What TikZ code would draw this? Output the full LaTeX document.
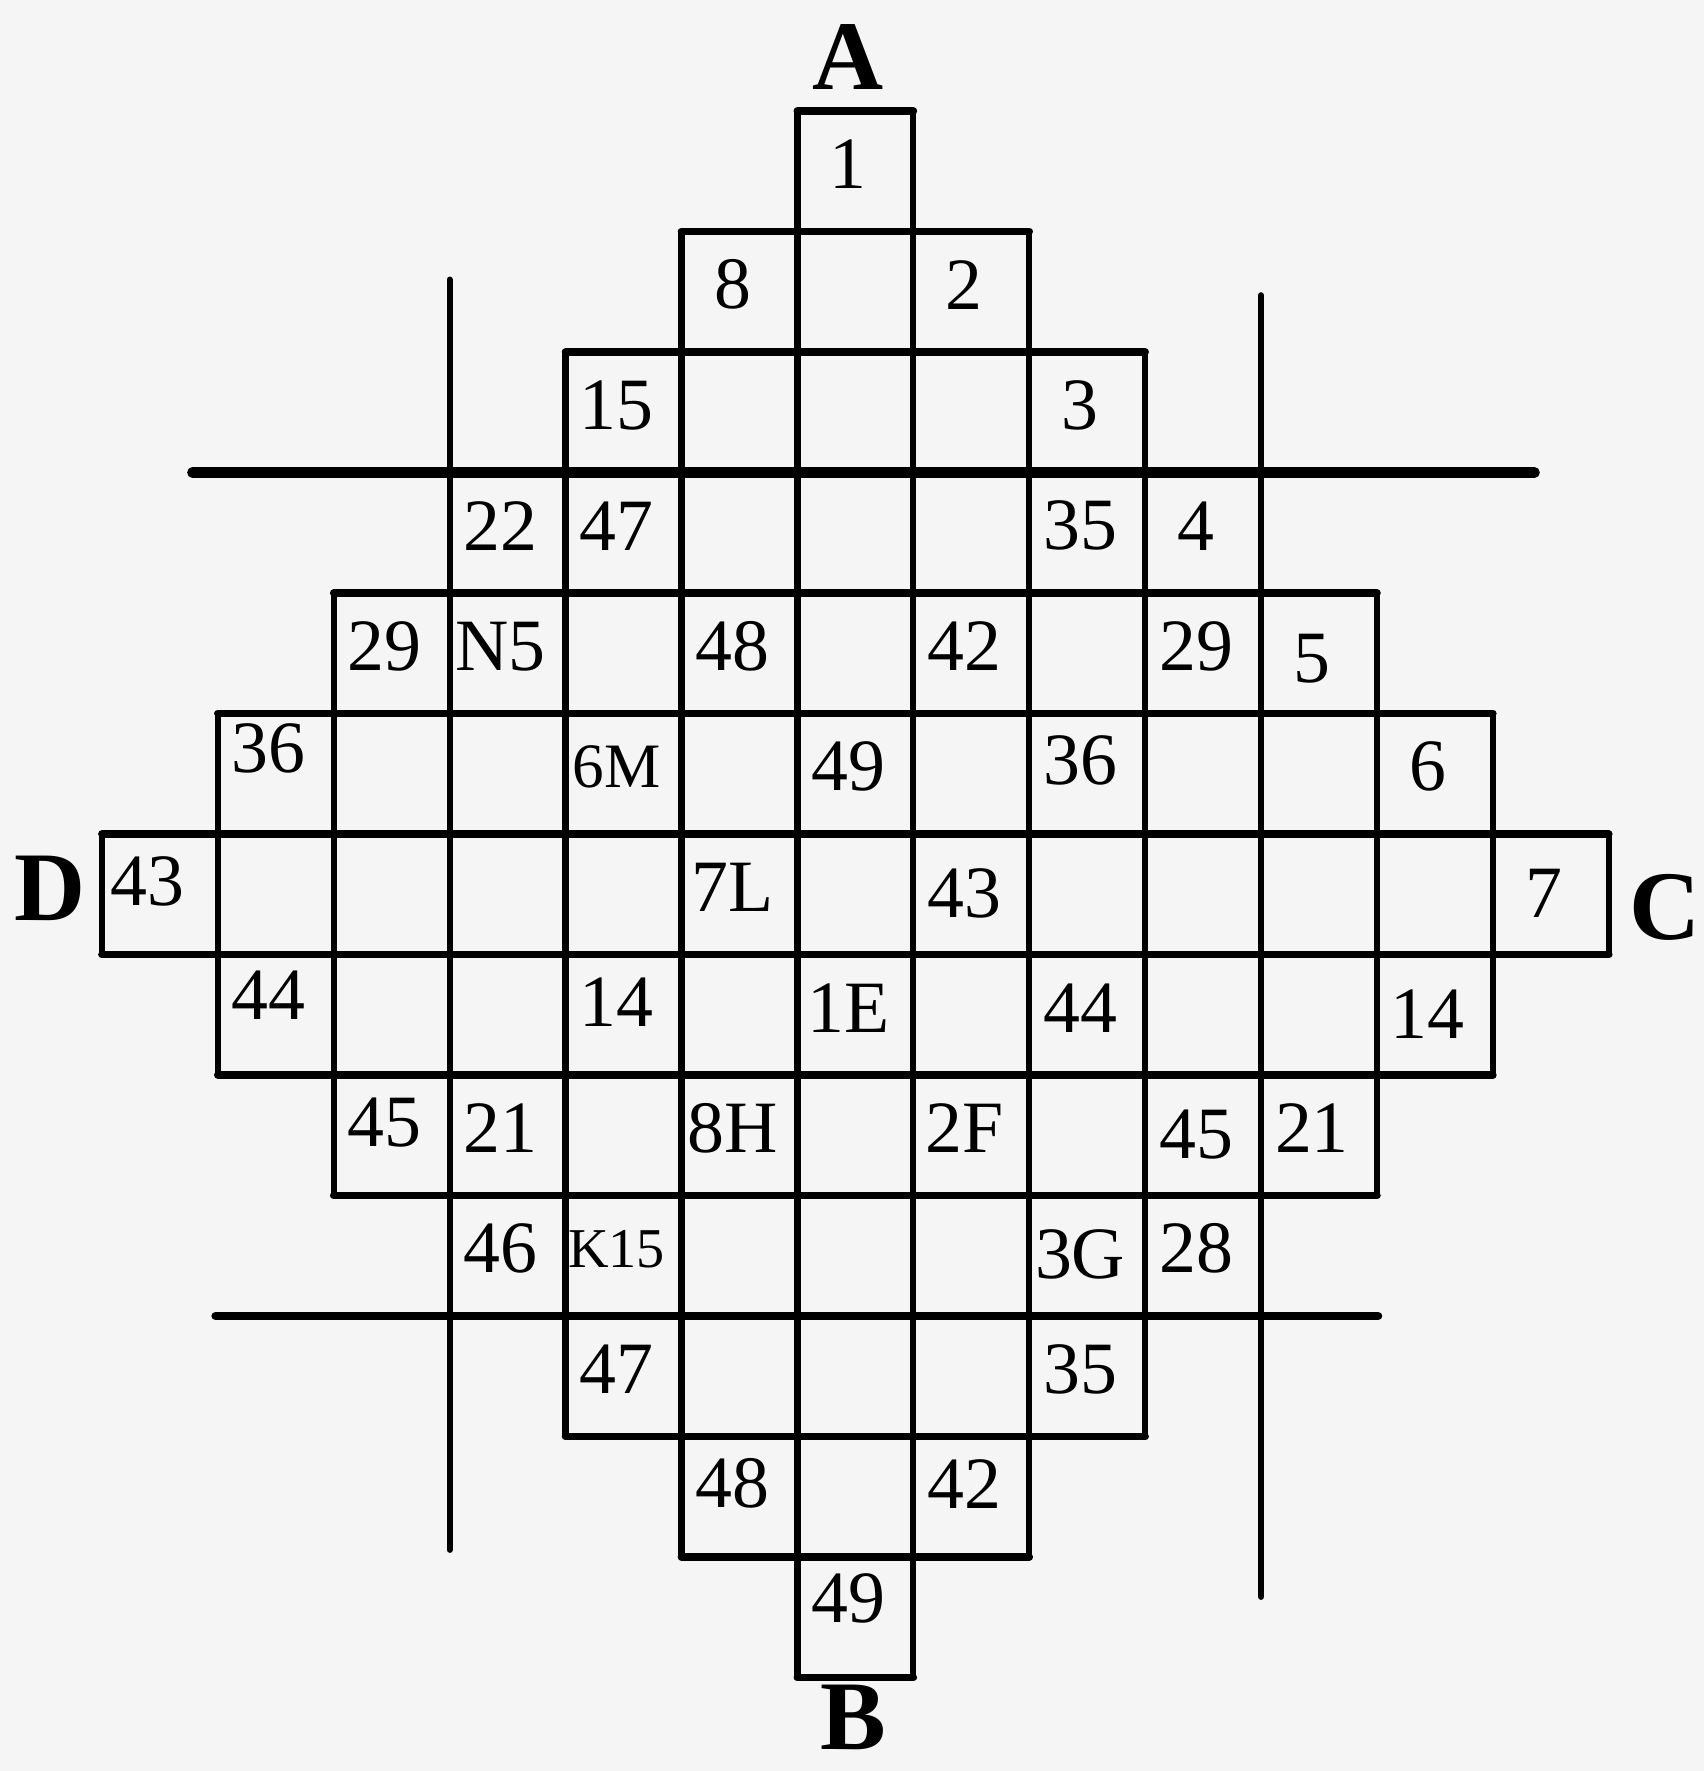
\documentclass[tikz,border=0pt]{standalone}
\usepackage{fontspec}
\setmainfont{Liberation Serif}
\begin{document}
\begin{tikzpicture}[x=1.159cm, y=-1.205cm,
    num/.style={font=\fontsize{21}{21}\selectfont, xshift=-0.7mm, yshift=0.7mm},
    small/.style={font=\fontsize{16}{16}\selectfont, xshift=-0.7mm, yshift=0.7mm},
    corner/.style={font=\fontsize{28}{28}\selectfont\bfseries},
    hrule/.style={line width=2.2pt, line cap=round},
    vrule/.style={line width=1.8pt, line cap=round}]

    % Paper
    \fill[white!96!black] (-0.880,-0.921) rectangle (13.822,13.776);
    \useasboundingbox (-0.880,-0.921) rectangle (13.822,13.776);

    % Long rules round the inner square
    \draw[hrule, line width=3pt] (0.78,3) -- (12.36,3);
    \draw[hrule, line width=2.4pt] (0.98,10) -- (11.01,10);
    \draw[vrule] (3,1.40) -- (3,11.94);
    \draw[vrule] (10,1.53) -- (10,12.33);

    % Horizontal cell borders
    \draw[hrule] (6,0) -- (7,0)  (5,1) -- (8,1)  (4,2) -- (9,2)
                 (2,4) -- (11,4) (1,5) -- (12,5) (0,6) -- (13,6)
                 (0,7) -- (13,7) (1,8) -- (12,8) (2,9) -- (11,9)
                 (4,11) -- (9,11) (5,12) -- (8,12) (6,13) -- (7,13);

    % Vertical cell borders
    \draw[vrule] (0,6) -- (0,7)  (1,5) -- (1,8)  (2,4) -- (2,9)
                 (4,2) -- (4,11) (5,1) -- (5,12) (6,0) -- (6,13)
                 (7,0) -- (7,13) (8,1) -- (8,12) (9,2) -- (9,11)
                 (11,4) -- (11,9) (12,5) -- (12,8) (13,6) -- (13,7);

    % Corner letters
    \node[corner] (A) at (6.44,-0.45) {A};
    \node[corner] (B) at (6.48,13.33) {B};
    \node[corner] (C) at (13.49,6.61) {C};
    \node[corner] (D) at (-0.45,6.45) {D};

    % Numbers, row by row
    \node[num] (r0c6) at (6.5,0.5) {1};

    \node[num] (r1c5) at (5.5,1.5) {8};
    \node[num] (r1c7) at (7.5,1.5) {2};

    \node[num] (r2c4) at (4.5,2.5) {15};
    \node[num] (r2c8) at (8.5,2.5) {3};

    \node[num] (r3c3) at (3.5,3.5) {22};
    \node[num] (r3c4) at (4.5,3.5) {47};
    \node[num] (r3c8) at (8.5,3.5) {35};
    \node[num] (r3c9) at (9.5,3.5) {4};

    \node[num] (r4c2) at (2.5,4.5) {29};
    \node[num] (r4c3) at (3.5,4.5) {N5};
    \node[num] (r4c5) at (5.5,4.5) {48};
    \node[num] (r4c7) at (7.5,4.5) {42};
    \node[num] (r4c9) at (9.5,4.5) {29};
    \node[num] (r4c10) at (10.5,4.6) {5};

    \node[num] (r5c1) at (1.5,5.35) {36};
    \node[num, font=\fontsize{18}{18}\selectfont] (r5c4) at (4.5,5.5) {6M};
    \node[num] (r5c6) at (6.5,5.5) {49};
    \node[num] (r5c8) at (8.5,5.45) {36};
    \node[num] (r5c11) at (11.5,5.5) {6};

    \node[num] (r6c0) at (0.45,6.45) {43};
    \node[num] (r6c5) at (5.5,6.5) {7L};
    \node[num] (r6c7) at (7.5,6.55) {43};
    \node[num] (r6c12) at (12.5,6.55) {7};

    \node[num] (r7c1) at (1.5,7.4) {44};
    \node[num] (r7c4) at (4.5,7.45) {14};
    \node[num] (r7c6) at (6.5,7.5) {1E};
    \node[num] (r7c8) at (8.5,7.5) {44};
    \node[num] (r7c11) at (11.5,7.55) {14};

    \node[num] (r8c2) at (2.5,8.45) {45};
    \node[num] (r8c3) at (3.5,8.5) {21};
    \node[num] (r8c5) at (5.5,8.5) {8H};
    \node[num] (r8c7) at (7.5,8.5) {2F};
    \node[num] (r8c9) at (9.5,8.55) {45};
    \node[num] (r8c10) at (10.5,8.5) {21};

    \node[num] (r9c3) at (3.5,9.5) {46};
    \node[small] (r9c4) at (4.5,9.5) {K15};
    \node[num] (r9c8) at (8.5,9.55) {3G};
    \node[num] (r9c9) at (9.5,9.5) {28};

    \node[num] (r10c4) at (4.5,10.5) {47};
    \node[num] (r10c8) at (8.5,10.5) {35};

    \node[num] (r11c5) at (5.5,11.45) {48};
    \node[num] (r11c7) at (7.5,11.45) {42};

    \node[num] (r12c6) at (6.5,12.4) {49};

\end{tikzpicture}
\end{document}
